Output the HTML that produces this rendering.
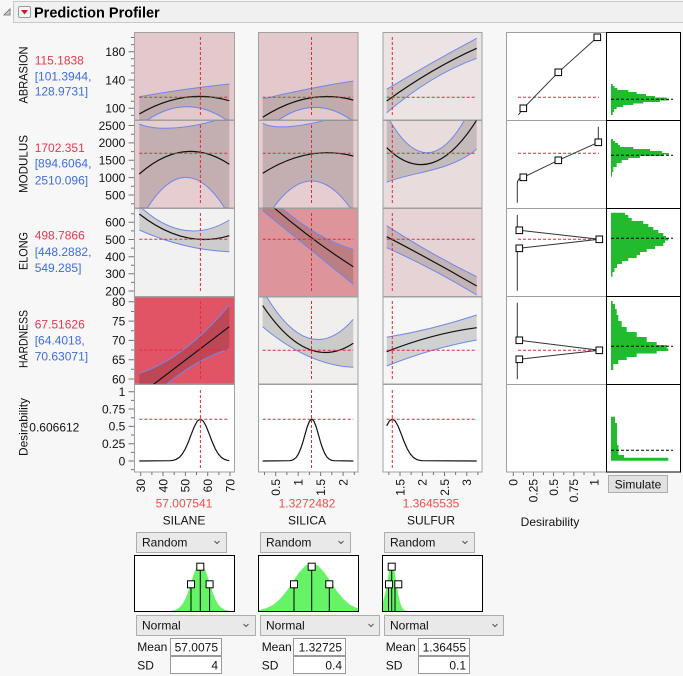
<!DOCTYPE html>
<html><head><meta charset="utf-8"><style>
html,body{margin:0;padding:0;background:#f7f7f7;}
svg{display:block;font-family:"Liberation Sans",Arial,sans-serif;}
.t{font-size:12px;fill:#111;}
.red{fill:#e63850;}
.blu{fill:#3d6de6;}
.xr{fill:#f04f4f;font-size:12px;}
.band{fill:rgba(0,0,0,0.15);stroke:none;}
.bl{fill:none;stroke:#7088ea;stroke-width:1;}
.bk{fill:none;stroke:#111;stroke-width:1.2;}
.rd{fill:none;stroke:#e8273b;stroke-width:1;stroke-dasharray:3,2;}
.kd{fill:none;stroke:#000;stroke-width:1;stroke-dasharray:3,2;}
.cell{stroke:#a0a0a0;stroke-width:1;}
.tk{stroke:#777;stroke-width:1;}
.sq{fill:#fff;stroke:#000;stroke-width:1;}
.hg{fill:#22bb2e;}
.ng{fill:#66f466;}
</style></head><body>
<svg width="683" height="676" viewBox="0 0 683 676" xmlns="http://www.w3.org/2000/svg">
<defs>
<clipPath id="c11"><rect x="134.5" y="32.5" width="100" height="87.5"/></clipPath>
<clipPath id="c12"><rect x="258.5" y="32.5" width="99.5" height="87.5"/></clipPath>
<clipPath id="c13"><rect x="383" y="32.5" width="99" height="87.5"/></clipPath>
<clipPath id="c21"><rect x="134.5" y="120.5" width="100" height="87.5"/></clipPath>
<clipPath id="c22"><rect x="258.5" y="120.5" width="99.5" height="87.5"/></clipPath>
<clipPath id="c23"><rect x="383" y="120.5" width="99" height="87.5"/></clipPath>
<clipPath id="c31"><rect x="134.5" y="208.5" width="100" height="88"/></clipPath>
<clipPath id="c32"><rect x="258.5" y="208.5" width="99.5" height="88"/></clipPath>
<clipPath id="c33"><rect x="383" y="208.5" width="99" height="88"/></clipPath>
<clipPath id="c41"><rect x="134.5" y="297" width="100" height="87"/></clipPath>
<clipPath id="c42"><rect x="258.5" y="297" width="99.5" height="87"/></clipPath>
<clipPath id="c43"><rect x="383" y="297" width="99" height="87"/></clipPath>
<clipPath id="d1"><rect x="134.5" y="555.5" width="100" height="56"/></clipPath>
<clipPath id="d2"><rect x="258.5" y="555.5" width="100" height="56"/></clipPath>
<clipPath id="d3"><rect x="382.5" y="555.5" width="100" height="56"/></clipPath>
</defs>

<!-- header -->
<rect x="13.5" y="1.5" width="675" height="21" fill="#f0f0f0" stroke="#c9c9c9"/>
<polygon points="4,15 10,15 10,9" fill="#d0d0d0" stroke="#666" stroke-width="0.8"/>
<rect x="18.5" y="6.5" width="12" height="11" rx="1.5" fill="#f6f6f6" stroke="#9a9a9a"/>
<polygon points="21,10 28,10 24.5,14.5" fill="#e0102a"/>
<text x="34" y="17.5" style="font-size:14.5px;font-weight:bold;fill:#000">Prediction Profiler</text>

<!-- response labels -->
<text class="t" transform="translate(27.5,75) rotate(-90)" text-anchor="middle" textLength="57" lengthAdjust="spacingAndGlyphs">ABRASION</text>
<text class="t" transform="translate(27.5,164) rotate(-90)" text-anchor="middle" textLength="58" lengthAdjust="spacingAndGlyphs">MODULUS</text>
<text class="t" transform="translate(27.5,251) rotate(-90)" text-anchor="middle" textLength="38" lengthAdjust="spacingAndGlyphs">ELONG</text>
<text class="t" transform="translate(27.5,339) rotate(-90)" text-anchor="middle" textLength="58" lengthAdjust="spacingAndGlyphs">HARDNESS</text>
<text class="t" transform="translate(27.5,427) rotate(-90)" text-anchor="middle" textLength="58" lengthAdjust="spacingAndGlyphs">Desirability</text>

<text class="t red" x="34.7" y="64.3">115.1838</text>
<text class="t blu" x="34.7" y="80.3">[101.3944,</text>
<text class="t blu" x="34.7" y="95.5">128.9731]</text>
<text class="t red" x="34.7" y="152">1702.351</text>
<text class="t blu" x="34.7" y="167.6">[894.6064,</text>
<text class="t blu" x="34.7" y="184.3">2510.096]</text>
<text class="t red" x="34.7" y="239.3">498.7866</text>
<text class="t blu" x="34.7" y="256">[448.2882,</text>
<text class="t blu" x="34.7" y="272">549.285]</text>
<text class="t red" x="34.7" y="328.3">67.51626</text>
<text class="t blu" x="34.7" y="344.3">[64.4018,</text>
<text class="t blu" x="34.7" y="360.3">70.63071]</text>
<text class="t" x="29.3" y="431.6">0.606612</text>

<!-- y tick labels -->
<g class="t" text-anchor="end">
<text x="125.3" y="56">180</text><text x="125.3" y="84.3">140</text><text x="125.3" y="112.6">100</text>
<text x="125.3" y="129.8">2500</text><text x="125.3" y="147.2">2000</text><text x="125.3" y="164.6">1500</text><text x="125.3" y="181.9">1000</text><text x="125.3" y="199.3">500</text>
<text x="125.3" y="226.6">600</text><text x="125.3" y="243.8">500</text><text x="125.3" y="261">400</text><text x="125.3" y="278.1">300</text><text x="125.3" y="295.3">200</text>
<text x="125.3" y="306.1">80</text><text x="125.3" y="325.4">75</text><text x="125.3" y="344.7">70</text><text x="125.3" y="364">65</text><text x="125.3" y="383.3">60</text>
<text x="125.3" y="396">1</text><text x="125.3" y="413.3">0.75</text><text x="125.3" y="430.7">0.5</text><text x="125.3" y="448">0.25</text><text x="125.3" y="465.3">0</text>
</g>
<!-- y ticks -->
<g class="tk">
<path d="M128.5,51.7H134M128.5,80H134M128.5,108.3H134M131,37.5H134M131,44.6H134M131,58.8H134M131,65.9H134M131,73H134M131,87.1H134M131,94.2H134M131,101.2H134M131,115.4H134"/>
<path d="M128.5,125.5H134M128.5,142.9H134M128.5,160.3H134M128.5,177.6H134M128.5,195H134M131,134.2H134M131,151.6H134M131,168.9H134M131,186.3H134M131,203.7H134"/>
<path d="M128.5,222.3H134M128.5,239.5H134M128.5,256.7H134M128.5,273.8H134M128.5,291H134M131,213.7H134M131,230.9H134M131,248.1H134M131,265.2H134M131,282.4H134"/>
<path d="M128.5,301.8H134M128.5,321.1H134M128.5,340.4H134M128.5,359.7H134M128.5,379H134M131,311.5H134M131,330.8H134M131,350H134M131,369.3H134"/>
<path d="M128.5,391.7H134M128.5,409H134M128.5,426.4H134M128.5,443.7H134M128.5,461H134M131,400.4H134M131,417.7H134M131,435H134M131,452.4H134M131,469.6H134"/>
</g>

<!-- cell backgrounds -->
<rect class="cell" x="134.5" y="32.5" width="100" height="87.5" fill="#e3c9cc"/>
<rect class="cell" x="258.5" y="32.5" width="99.5" height="87.5" fill="#e3c9cc"/>
<rect class="cell" x="383" y="32.5" width="99" height="87.5" fill="#ece3e4"/>
<rect class="cell" x="134.5" y="120.5" width="100" height="87.5" fill="#e5cdd0"/>
<rect class="cell" x="258.5" y="120.5" width="99.5" height="87.5" fill="#e5cdd0"/>
<rect class="cell" x="383" y="120.5" width="99" height="87.5" fill="#e8dcdd"/>
<rect class="cell" x="134.5" y="208.5" width="100" height="88" fill="#f1f1f1"/>
<rect class="cell" x="258.5" y="208.5" width="99.5" height="88" fill="#dd959b"/>
<rect class="cell" x="383" y="208.5" width="99" height="88" fill="#e6d3d5"/>
<rect class="cell" x="134.5" y="297" width="100" height="87" fill="#e05466"/>
<rect class="cell" x="258.5" y="297" width="99.5" height="87" fill="#f1efee"/>
<rect class="cell" x="383" y="297" width="99" height="87" fill="#f6f6f6"/>
<rect class="cell" x="134.5" y="384.5" width="100" height="87.5" fill="#ffffff"/>
<rect class="cell" x="258.5" y="384.5" width="99.5" height="87.5" fill="#ffffff"/>
<rect class="cell" x="383" y="384.5" width="99" height="87.5" fill="#ffffff"/>

<!-- row 1 -->
<g clip-path="url(#c11)">
<path class="band" d="M139.3,96.7 Q184.3,88.65 229.3,84 L229.3,121.9 Q184.3,89.55 139.3,126 Z"/>
<path class="bl" d="M139.3,96.7 Q184.3,88.65 229.3,84"/><path class="bl" d="M139.3,126 Q184.3,89.55 229.3,121.9"/>
<path class="bk" d="M139.3,114 Q184.3,87.65 229.3,100.7"/>
<path class="rd" d="M139.3,97.3H229.3M200.4,37V116"/>
</g>
<g clip-path="url(#c12)">
<path class="band" d="M262.7,99 Q308,88 353.3,81 L353.3,121.4 Q308,88.1 262.7,133.6 Z"/>
<path class="bl" d="M262.7,99 Q308,88 353.3,81"/><path class="bl" d="M262.7,133.6 Q308,88.1 353.3,121.4"/>
<path class="bk" d="M262.7,117.3 Q308,87.95 353.3,100"/>
<path class="rd" d="M262.7,97.3H353.3M311.5,37V116"/>
</g>
<g clip-path="url(#c13)">
<path class="band" d="M386.7,89.3 Q431.7,62.2 476.7,38.3 L476.7,58.3 Q431.7,74.5 386.7,112.7 Z"/>
<path class="bl" d="M386.7,89.3 Q431.7,62.2 476.7,38.3"/><path class="bl" d="M386.7,112.7 Q431.7,74.5 476.7,58.3"/>
<path class="bk" d="M386.7,101 Q431.7,68.35 476.7,48.3"/>
<path class="rd" d="M386.7,97.3H476.7M392.3,37V116"/>
</g>

<!-- row 2 -->
<g clip-path="url(#c21)">
<path class="band" d="M139.3,124 C155,131 190,130 229.3,116 L229.3,215.7 Q184.3,135.9 139.3,222 Z"/>
<path class="bl" d="M139.3,124 C155,131 190,130 229.3,116"/><path class="bl" d="M139.3,222 Q184.3,135.9 229.3,215.7"/>
<path class="bk" d="M139.3,174 Q184.3,134.25 229.3,164.3"/>
<path class="rd" d="M139.3,153.3H229.3M200.4,125V204"/>
</g>
<g clip-path="url(#c22)">
<path class="band" d="M262.7,123.3 C275,130 305,128 353.3,112 L353.3,212.3 Q308,144.1 262.7,224.5 Z"/>
<path class="bl" d="M262.7,123.3 C275,130 305,128 353.3,112"/><path class="bl" d="M262.7,224.5 Q308,144.1 353.3,212.3"/>
<path class="bk" d="M262.7,173.3 Q308,144.45 353.3,156"/>
<path class="rd" d="M262.7,153.3H353.3M311.5,125V204"/>
</g>
<g clip-path="url(#c23)">
<path class="band" d="M386.7,115 Q431.7,199.2 476.7,95.4 L476.7,149 C450,172 410,172 386.7,182.3 Z"/>
<path class="bl" d="M386.7,115 Q431.7,199.2 476.7,95.4"/><path class="bl" d="M386.7,182.3 C410,172 450,172 476.7,149"/>
<path class="bk" d="M386.7,147.7 Q431.7,192.15 476.7,120"/>
<path class="rd" d="M386.7,153.3H476.7M392.3,125V204"/>
</g>

<!-- row 3 -->
<g clip-path="url(#c31)">
<path class="band" d="M139.3,206 Q184.3,247.6 229.3,220 L229.3,251.7 Q184.3,250 139.3,230 Z"/>
<path class="bl" d="M139.3,206 Q184.3,247.6 229.3,220"/><path class="bl" d="M139.3,230 Q184.3,250 229.3,251.7"/>
<path class="bk" d="M139.3,214 Q184.3,249.35 229.3,235.7"/>
<path class="rd" d="M139.3,239.3H229.3M200.4,213V292"/>
</g>
<g clip-path="url(#c32)">
<path class="band" d="M262.7,190 Q308,236 353.3,249.5 L353.3,284.3 L262.7,210.7 Z"/>
<path class="bl" d="M262.7,190 Q308,236 353.3,249.5"/><path class="bl" d="M262.7,210.7 L353.3,284.3"/>
<path class="bk" d="M262.7,198 Q308,238 353.3,266.7"/>
<path class="rd" d="M262.7,239.3H353.3M311.5,213V292"/>
</g>
<g clip-path="url(#c33)">
<path class="band" d="M386.7,225.7 Q431.7,254.8 476.7,276.7 L476.7,295 Q431.7,267.65 386.7,247.7 Z"/>
<path class="bl" d="M386.7,225.7 Q431.7,254.8 476.7,276.7"/><path class="bl" d="M386.7,247.7 Q431.7,267.65 476.7,295"/>
<path class="bk" d="M386.7,236.7 Q431.7,260 476.7,286"/>
<path class="rd" d="M386.7,239.3H476.7M392.3,213V292"/>
</g>

<!-- row 4 -->
<g clip-path="url(#c41)">
<path class="band" d="M139.3,373.3 Q184.3,358.85 229.3,305 L229.3,349 Q184.3,362.5 139.3,410 Z"/>
<path class="bl" d="M139.3,373.3 Q184.3,358.85 229.3,305"/><path class="bl" d="M139.3,410 Q184.3,362.5 229.3,349"/>
<path class="bk" d="M139.3,395.2 L229.3,326.7"/>
<path class="rd" d="M139.3,350H229.3M200.4,301V380"/>
</g>
<g clip-path="url(#c42)">
<path class="band" d="M262.7,290 Q308,371.15 353.3,319.3 L353.3,367.3 Q308,365 262.7,326.7 Z"/>
<path class="bl" d="M262.7,290 Q308,371.15 353.3,319.3"/><path class="bl" d="M262.7,326.7 Q308,365 353.3,367.3"/>
<path class="bk" d="M262.7,305.6 Q308,373.35 353.3,343.3"/>
<path class="rd" d="M262.7,350.3H353.3M311.5,301V380"/>
</g>
<g clip-path="url(#c43)">
<path class="band" d="M386.7,337.3 Q431.7,329.85 476.7,315 L476.7,340 Q431.7,348 386.7,366 Z"/>
<path class="bl" d="M386.7,337.3 Q431.7,329.85 476.7,315"/><path class="bl" d="M386.7,366 Q431.7,348 476.7,340"/>
<path class="bk" d="M386.7,351.7 Q431.7,333.7 476.7,327.7"/>
<path class="rd" d="M386.7,350.3H476.7M392.3,301V380"/>
</g>

<!-- row 5 desirability -->
<path class="bk" d="M139.3,461 L170.3,460.7 173.3,460.3 176.3,459.3 179.3,457.4 182.3,454 185.3,448.9 188.3,442.1 191.3,434.2 194.3,426.6 197.3,421.1 200.3,419 203.3,421.1 206.3,426.6 209.3,434.2 212.3,442.1 215.3,448.9 218.3,454 221.3,457.4 224.3,459.3 227.3,460.3 229.3,460.6"/>
<path class="rd" d="M139.3,419.3H229.3M200.4,390V468"/>
<path class="bk" d="M262.7,461 L289.6,460.7 291.8,460.3 294,459.3 296.2,457.4 298.4,454 300.6,448.9 302.9,442.1 305.1,434.2 307.3,426.6 309.5,421.1 311.7,419 313.9,421.1 316.1,426.6 318.3,434.2 320.5,442.1 322.8,448.9 325,454 327.2,457.4 329.4,459.3 331.6,460.3 333.8,460.7 353.3,461"/>
<path class="rd" d="M262.7,419.3H353.3M311.5,390V468"/>
<path class="bk" d="M386.7,425.8 L389.3,421.1 392.3,419 395.3,421.1 398.3,426.6 401.3,434.2 404.3,442.1 407.3,448.9 410.3,454 413.3,457.4 416.3,459.3 419.3,460.3 422.3,460.7 476.7,461"/>
<path class="rd" d="M386.7,419.3H476.7M392.3,390V468"/>

<!-- x ticks -->
<g class="tk">
<path d="M140.7,472V476M151.9,472V475M163,472V476M174.2,472V475M185.4,472V476M196.5,472V475M207.7,472V476M218.9,472V475M230,472V476"/>
<path d="M264.5,472V475M275.7,472V476M286.9,472V475M298.2,472V476M309.4,472V475M320.6,472V476M331.8,472V475M343.1,472V476M354.3,472V475"/>
<path d="M388.9,472V475M400,472V476M411.1,472V475M422.3,472V476M433.4,472V475M444.5,472V476M455.6,472V475M466.8,472V476M477.9,472V475"/>
<path d="M513.3,472V476M523.4,472V475M533.4,472V476M543.5,472V475M553.5,472V476M563.7,472V475M573.8,472V476M584,472V475M594,472V476"/>
</g>
<g class="t" text-anchor="end">
<text transform="translate(145,479) rotate(-90)">30</text>
<text transform="translate(167.3,479) rotate(-90)">40</text>
<text transform="translate(189.7,479) rotate(-90)">50</text>
<text transform="translate(212,479) rotate(-90)">60</text>
<text transform="translate(234.3,479) rotate(-90)">70</text>
<text transform="translate(280,479) rotate(-90)">0.5</text>
<text transform="translate(302.5,479) rotate(-90)">1</text>
<text transform="translate(324.9,479) rotate(-90)">1.5</text>
<text transform="translate(347.4,479) rotate(-90)">2</text>
<text transform="translate(404.3,479) rotate(-90)">1.5</text>
<text transform="translate(426.6,479) rotate(-90)">2</text>
<text transform="translate(448.8,479) rotate(-90)">2.5</text>
<text transform="translate(471.1,479) rotate(-90)">3</text>
<text transform="translate(517.6,479) rotate(-90)">0</text>
<text transform="translate(537.7,479) rotate(-90)">0.25</text>
<text transform="translate(557.8,479) rotate(-90)">0.5</text>
<text transform="translate(578.1,479) rotate(-90)">0.75</text>
<text transform="translate(598.3,479) rotate(-90)">1</text>
</g>
<text class="xr" x="184" y="507.5" text-anchor="middle">57.007541</text>
<text class="t" x="184" y="524.5" text-anchor="middle">SILANE</text>
<text class="xr" x="307" y="507.5" text-anchor="middle">1.3272482</text>
<text class="t" x="307" y="524.5" text-anchor="middle">SILICA</text>
<text class="xr" x="431" y="507.5" text-anchor="middle">1.3645535</text>
<text class="t" x="431" y="524.5" text-anchor="middle">SULFUR</text>
<text class="t" x="550" y="526" text-anchor="middle">Desirability</text>

<!-- desirability function column -->
<rect x="506.5" y="32.5" width="100" height="439.5" fill="#fff" stroke="#a0a0a0"/>
<path d="M506.5,120.5H606.5M506.5,208.5H606.5M506.5,296.5H606.5M506.5,384.5H606.5" stroke="#a0a0a0"/>
<path class="rd" d="M518,97.3H599M518,153.3H599M518,239.3H599M518,350.3H599"/>
<g fill="none" stroke="#333" stroke-width="1">
<path d="M518.3,115 L523.3,108.3 558.3,72.3 597.3,37.3"/>
<path d="M517.3,202.7 L517.3,184 Q517.3,178 523.3,177.3 L558.3,160.3 598.3,142.3 598.3,126.7"/>
<path d="M517.3,215 L517.3,228 Q517.5,230.3 519.3,230.3 L599.3,239.3 519.3,248.3 Q517.5,248.5 517.3,251 L517.3,290.7"/>
<path d="M517.3,302.7 L517.3,338 Q517.5,340.3 519.3,340.3 L599.3,350.3 519.3,359.3 Q517.5,359.5 517.3,362 L517.3,379.3"/>
</g>
<g class="sq">
<rect x="520" y="105" width="6.6" height="6.6"/><rect x="555" y="69" width="6.6" height="6.6"/><rect x="594" y="34" width="6.6" height="6.6"/>
<rect x="520" y="174" width="6.6" height="6.6"/><rect x="555" y="157" width="6.6" height="6.6"/><rect x="595" y="139" width="6.6" height="6.6"/>
<rect x="516" y="227" width="6.6" height="6.6"/><rect x="596" y="236" width="6.6" height="6.6"/><rect x="516" y="245" width="6.6" height="6.6"/>
<rect x="516" y="337" width="6.6" height="6.6"/><rect x="596" y="347" width="6.6" height="6.6"/><rect x="516" y="356" width="6.6" height="6.6"/>
</g>

<!-- simulation histograms -->
<rect x="606.5" y="32.5" width="74" height="439.5" fill="#fff" stroke="#000"/>
<path d="M606.5,120.5H680.5M606.5,208.5H680.5M606.5,296.5H680.5M606.5,384.5H680.5" stroke="#000"/>
<path class="hg" d="M611,84 H612.7 V86 H614.5 V88 H617.3 V90 H628.3 V92 H636.7 V94 H646 V96 H655 V97.5 H666.7 V99 H669 V100.5 H660 V102 H643.3 V103.5 H633.3 V105 H623.3 V107 H616.7 V109 H614 V112 H612.7 V115 H611 Z"/>
<path class="hg" d="M611,139 H613 V141 H615 V143 H618 V145 H620 V147 H633.3 V149 H650 V151 H662 V153 H669 V154.5 H663.3 V156 H640 V158 H628.3 V160 H621.7 V163 H616.7 V167 H613.3 V172 H612 V176.7 H611 Z"/>
<path class="hg" d="M611,212.7 H625 V215 H628.3 V218 H631.7 V221 H643.3 V224 H648.3 V227 H653.3 V230 H658.3 V233 H663.3 V236 H666 V238 H668.3 V240.5 H665 V243 H663.3 V246 H655 V249 H646.7 V252 H640 V255 H636.7 V258 H628.3 V261 H622 V264 H617 V268 H614.5 V272 H612.5 V276.7 H611 Z"/>
<path class="hg" d="M611,301 H612.7 V304 H615 V309 H616.7 V315 H618.3 V321 H621.7 V327 H626.7 V332 H636.7 V337 H646.7 V342 H656.7 V345 H666.7 V348.5 H668.3 V351 H656.7 V353.5 H636.7 V357 H626.7 V360 H618.3 V364 H613.3 V370 H611 Z"/>
<path class="hg" d="M611,416.7 H615 V423 H617 V445 H618.5 V455 H624 V457.7 H668.3 V460.7 H611 Z"/>
<path class="kd" d="M611,99.3H673M611,155.3H673M611,238.3H673M611,346.3H673M611,450.3H673"/>

<!-- simulate button -->
<rect x="608.5" y="475.5" width="59" height="17" fill="#e1e1e1" stroke="#adadad"/>
<text class="t" x="638" y="488.3" text-anchor="middle">Simulate</text>

<!-- Random dropdowns -->
<g>
<rect x="136.5" y="532.5" width="90" height="20" fill="#e9e9e9" stroke="#adadad"/>
<text class="t" x="142" y="546.5">Random</text>
<polyline points="214.5,541 217,543.5 219.5,541" fill="none" stroke="#555"/>
<rect x="260.5" y="532.5" width="90" height="20" fill="#e9e9e9" stroke="#adadad"/>
<text class="t" x="266" y="546.5">Random</text>
<polyline points="338.5,541 341,543.5 343.5,541" fill="none" stroke="#555"/>
<rect x="384.5" y="532.5" width="90" height="20" fill="#e9e9e9" stroke="#adadad"/>
<text class="t" x="390" y="546.5">Random</text>
<polyline points="462.5,541 465,543.5 467.5,541" fill="none" stroke="#555"/>
</g>

<!-- distribution boxes -->
<rect x="134.5" y="555.5" width="100" height="56" fill="#fff" stroke="#000"/>
<rect x="258.5" y="555.5" width="100" height="56" fill="#fff" stroke="#000"/>
<rect x="382.5" y="555.5" width="100" height="56" fill="#fff" stroke="#000"/>
<g clip-path="url(#d1)">
<path class="ng" d="M170,611 L173.3,610.5 176.3,609.6 179.3,607.8 182.3,604.5 185.3,599 188.3,591.4 191.3,581.9 194.3,572.5 197.3,565.6 200.3,563 203.3,565.6 206.3,572.5 209.3,581.9 212.3,591.4 215.3,599 218.3,604.5 221.3,607.8 224.3,609.6 227.3,610.5 230.6,611 Z"/>
<path d="M191,587.8V611M200.3,570V611M209.6,587.8V611" stroke="#000"/>
</g>
<g clip-path="url(#d2)">
<path class="ng" d="M258.5,611 L258.5,610 261,609.6 267.4,607.8 273.7,604.5 280,599 286.4,591.4 292.7,581.9 299,572.5 305.4,565.6 311.7,563 318,565.6 324.4,572.5 330.7,581.9 337,591.4 343.4,599 349.7,604.5 356,607.8 358.5,608.3 358.5,611 Z"/>
<path d="M294,587.8V611M311.7,570V611M329.3,587.8V611" stroke="#000"/>
</g>
<g clip-path="url(#d3)">
<path class="ng" d="M382.5,611 L382.5,603.6 385.7,591.4 387.2,581.9 388.7,572.5 390.2,565.6 391.7,563 393.2,565.6 394.7,572.5 396.2,581.9 397.7,591.4 399.2,599 400.7,604.5 402.2,607.8 403.7,609.6 405.2,610.5 406.7,611 Z"/>
<path d="M388.5,587.8V611M391.7,570V611M395,587.8V611" stroke="#000"/>
</g>
<rect x="134.5" y="555.5" width="100" height="56" fill="none" stroke="#000"/>
<rect x="258.5" y="555.5" width="100" height="56" fill="none" stroke="#000"/>
<rect x="382.5" y="555.5" width="100" height="56" fill="none" stroke="#000"/>
<g class="sq">
<rect x="196.8" y="563.2" width="7" height="7"/><rect x="187.5" y="580.8" width="7" height="7"/><rect x="206.1" y="580.8" width="7" height="7"/>
<rect x="308.2" y="563.2" width="7" height="7"/><rect x="290.5" y="580.8" width="7" height="7"/><rect x="325.8" y="580.8" width="7" height="7"/>
<rect x="388.2" y="563.2" width="7" height="7"/><rect x="385.5" y="580.8" width="7" height="7"/><rect x="394.8" y="580.8" width="7" height="7"/>
</g>

<!-- Normal dropdowns -->
<rect x="136.5" y="615.5" width="119" height="20" fill="#e9e9e9" stroke="#adadad"/>
<text class="t" x="142" y="629.5">Normal</text>
<polyline points="243.5,624 246,626.5 248.5,624" fill="none" stroke="#555"/>
<rect x="260.5" y="615.5" width="119" height="20" fill="#e9e9e9" stroke="#adadad"/>
<text class="t" x="266" y="629.5">Normal</text>
<polyline points="368.5,624 371,626.5 373.5,624" fill="none" stroke="#555"/>
<rect x="384.5" y="615.5" width="119" height="20" fill="#e9e9e9" stroke="#adadad"/>
<text class="t" x="390" y="629.5">Normal</text>
<polyline points="492.5,624 495,626.5 497.5,624" fill="none" stroke="#555"/>

<!-- Mean / SD -->
<text class="t" x="137.3" y="651">Mean</text>
<text class="t" x="137.3" y="669.3">SD</text>
<rect x="170.5" y="638.5" width="51" height="17" fill="#fff" stroke="#9a9a9a"/>
<rect x="170.5" y="656.5" width="51" height="17" fill="#fff" stroke="#9a9a9a"/>
<text class="t" x="218" y="651.5" text-anchor="end">57.0075</text>
<text class="t" x="218" y="669.5" text-anchor="end">4</text>

<text class="t" x="261.7" y="651">Mean</text>
<text class="t" x="261.7" y="669.3">SD</text>
<rect x="293.5" y="638.5" width="52" height="17" fill="#fff" stroke="#9a9a9a"/>
<rect x="293.5" y="656.5" width="52" height="17" fill="#fff" stroke="#9a9a9a"/>
<text class="t" x="342" y="651.5" text-anchor="end">1.32725</text>
<text class="t" x="342" y="669.5" text-anchor="end">0.4</text>

<text class="t" x="385.7" y="651">Mean</text>
<text class="t" x="385.7" y="669.3">SD</text>
<rect x="418.5" y="638.5" width="51" height="17" fill="#fff" stroke="#9a9a9a"/>
<rect x="418.5" y="656.5" width="51" height="17" fill="#fff" stroke="#9a9a9a"/>
<text class="t" x="466" y="651.5" text-anchor="end">1.36455</text>
<text class="t" x="466" y="669.5" text-anchor="end">0.1</text>
</svg>
</body></html>
